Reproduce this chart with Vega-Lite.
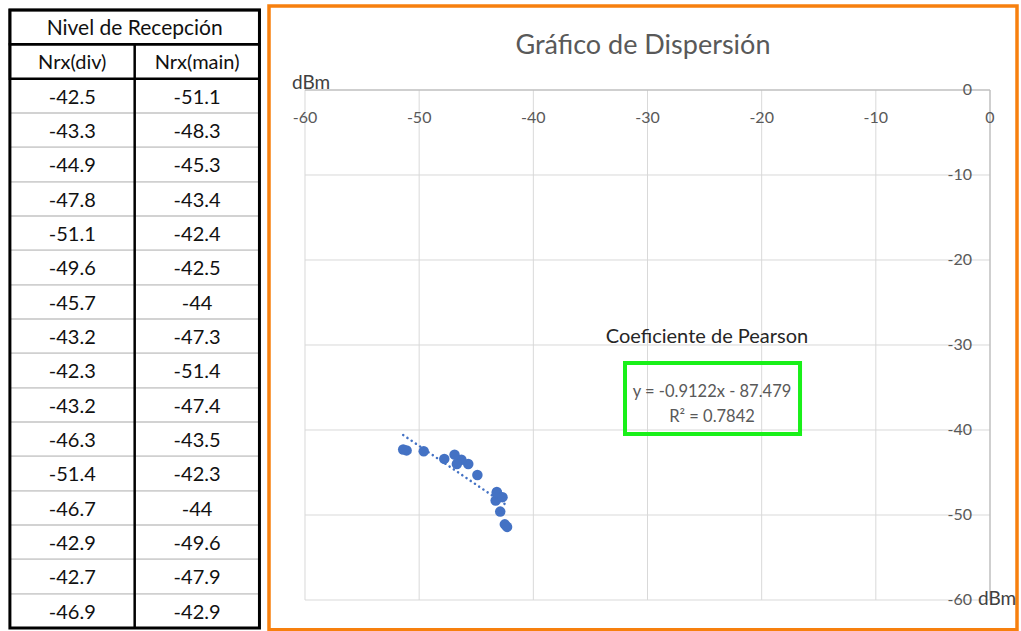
{
  "$schema": "https://vega.github.io/schema/vega-lite/v6.json",
  "width": 1021,
  "height": 631,
  "padding": 0,
  "autosize": {"type": "none"},
  "background": "white",
  "config": {"view": {"stroke": null}, "font": "Lato"},
  "datasets": {
    "rows": [
      {"n": 1, "div": -42.5, "main": -51.1},
      {"n": 2, "div": -43.3, "main": -48.3},
      {"n": 3, "div": -44.9, "main": -45.3},
      {"n": 4, "div": -47.8, "main": -43.4},
      {"n": 5, "div": -51.1, "main": -42.4},
      {"n": 6, "div": -49.6, "main": -42.5},
      {"n": 7, "div": -45.7, "main": -44},
      {"n": 8, "div": -43.2, "main": -47.3},
      {"n": 9, "div": -42.3, "main": -51.4},
      {"n": 10, "div": -43.2, "main": -47.4},
      {"n": 11, "div": -46.3, "main": -43.5},
      {"n": 12, "div": -51.4, "main": -42.3},
      {"n": 13, "div": -46.7, "main": -44},
      {"n": 14, "div": -42.9, "main": -49.6},
      {"n": 15, "div": -42.7, "main": -47.9},
      {"n": 16, "div": -46.9, "main": -42.9}
    ],
    "headers": [
      {"r": "t", "label": "Nivel de Recepción"},
      {"r": "h", "label": "Nrx(div)"},
      {"r": "h", "label": "Nrx(main)"}
    ],
    "ticks": [{"v": -60}, {"v": -50}, {"v": -40}, {"v": -30}, {"v": -20}, {"v": -10}, {"v": 0}]
  },
  "resolve": {"scale": {"x": "independent", "y": "independent"}},
  "layer": [
    {
      "layer": [
        {
          "data": {"name": "rows"},
          "mark": {"type": "rect", "filled": false, "color": "#D0D0D0", "strokeWidth": 1.5},
          "encoding": {
            "x": {"datum": 0, "type": "quantitative", "scale": {"domain": [-0.07937, 8.10317], "nice": false, "zero": false}, "axis": null},
            "x2": {"datum": 2},
            "y": {"field": "n", "type": "ordinal", "scale": {"domain": ["t", "h", 1, 2, 3, 4, 5, 6, 7, 8, 9, 10, 11, 12, 13, 14, 15, 16], "paddingInner": 0, "paddingOuter": 0.18932, "align": 0.769}, "axis": null}
          }
        },
        {
          "data": {"values": [{}]},
          "mark": {"type": "rule", "color": "black", "strokeWidth": 2.5},
          "encoding": {
            "x": {"datum": 1, "type": "quantitative", "axis": null},
            "y": {"datum": "h", "type": "ordinal", "bandPosition": 0, "axis": null},
            "y2": {"datum": 16, "bandPosition": 1}
          }
        },
        {
          "data": {"name": "headers"},
          "transform": [{"filter": "datum.r === 't'"}],
          "mark": {"type": "rect", "filled": false, "color": "black", "strokeWidth": 2.5},
          "encoding": {
            "x": {"datum": 0, "type": "quantitative", "axis": null},
            "x2": {"datum": 2},
            "y": {"field": "r", "type": "ordinal", "axis": null}
          }
        },
        {
          "data": {"values": [{}]},
          "mark": {"type": "rect", "filled": false, "color": "black", "strokeWidth": 2.5},
          "encoding": {
            "x": {"datum": 0, "type": "quantitative", "axis": null},
            "x2": {"datum": 2},
            "y": {"datum": "h", "type": "ordinal", "axis": null}
          }
        },
        {
          "data": {"values": [{}]},
          "mark": {"type": "rect", "filled": false, "color": "black", "strokeWidth": 3},
          "encoding": {
            "x": {"datum": 0, "type": "quantitative", "axis": null},
            "x2": {"datum": 2},
            "y": {"datum": "t", "type": "ordinal", "bandPosition": 0, "axis": null},
            "y2": {"datum": 16, "bandPosition": 1}
          }
        },
        {
          "data": {"name": "headers"},
          "transform": [{"filter": "datum.r === 't'"}],
          "mark": {"type": "text", "fontSize": 21, "color": "#111111", "baseline": "middle", "align": "center", "dy": 2},
          "encoding": {
            "x": {"datum": 1, "type": "quantitative", "axis": null},
            "y": {"field": "r", "type": "ordinal", "axis": null},
            "text": {"field": "label", "type": "nominal"}
          }
        },
        {
          "data": {"name": "headers"},
          "transform": [{"filter": "datum.label === 'Nrx(div)'"}],
          "mark": {"type": "text", "fontSize": 20, "color": "#111111", "baseline": "middle", "align": "center", "dy": 2},
          "encoding": {
            "x": {"datum": 0.5, "type": "quantitative", "axis": null},
            "y": {"field": "r", "type": "ordinal", "axis": null},
            "text": {"field": "label", "type": "nominal"}
          }
        },
        {
          "data": {"name": "headers"},
          "transform": [{"filter": "datum.label === 'Nrx(main)'"}],
          "mark": {"type": "text", "fontSize": 20, "color": "#111111", "baseline": "middle", "align": "center", "dy": 2},
          "encoding": {
            "x": {"datum": 1.5, "type": "quantitative", "axis": null},
            "y": {"field": "r", "type": "ordinal", "axis": null},
            "text": {"field": "label", "type": "nominal"}
          }
        },
        {
          "data": {"name": "rows"},
          "mark": {"type": "text", "fontSize": 20, "color": "#111111", "baseline": "middle", "align": "center", "dy": 2},
          "encoding": {
            "x": {"datum": 0.5, "type": "quantitative", "axis": null},
            "y": {"field": "n", "type": "ordinal", "axis": null},
            "text": {"field": "div", "type": "nominal"}
          }
        },
        {
          "data": {"name": "rows"},
          "mark": {"type": "text", "fontSize": 20, "color": "#111111", "baseline": "middle", "align": "center", "dy": 2},
          "encoding": {
            "x": {"datum": 1.5, "type": "quantitative", "axis": null},
            "y": {"field": "n", "type": "ordinal", "axis": null},
            "text": {"field": "main", "type": "nominal"}
          }
        }
      ]
    },
    {
      "layer": [
        {
          "data": {"name": "ticks"},
          "transform": [{"filter": "datum.v < 0"}],
          "mark": {"type": "rule", "color": "#D9D9D9", "strokeWidth": 1},
          "encoding": {
            "x": {"field": "v", "type": "quantitative", "scale": {"domain": [-86.715, 2.715], "nice": false, "zero": false}, "axis": null},
            "y": {"datum": 0, "type": "quantitative", "scale": {"domain": [-63.647, 10.588], "nice": false, "zero": false}, "axis": null},
            "y2": {"datum": -60}
          }
        },
        {
          "data": {"name": "ticks"},
          "transform": [{"filter": "datum.v < 0"}],
          "mark": {"type": "rule", "color": "#D9D9D9", "strokeWidth": 1},
          "encoding": {
            "y": {"field": "v", "type": "quantitative", "axis": null},
            "x": {"datum": -60, "type": "quantitative", "axis": null},
            "x2": {"datum": 0}
          }
        },
        {
          "data": {"values": [{}]},
          "mark": {"type": "rule", "color": "#BFBFBF", "strokeWidth": 1.5},
          "encoding": {
            "y": {"datum": 0, "type": "quantitative", "axis": null},
            "x": {"datum": -60, "type": "quantitative", "axis": null},
            "x2": {"datum": 0}
          }
        },
        {
          "data": {"values": [{}]},
          "mark": {"type": "rule", "color": "#BFBFBF", "strokeWidth": 1.5},
          "encoding": {
            "x": {"datum": 0, "type": "quantitative", "axis": null},
            "y": {"datum": 0, "type": "quantitative", "axis": null},
            "y2": {"datum": -60}
          }
        },
        {
          "data": {"values": [{}]},
          "mark": {"type": "rect", "filled": false, "color": "#F7800E", "strokeWidth": 3.5},
          "encoding": {
            "x": {"datum": -63.153, "type": "quantitative", "axis": null},
            "x2": {"datum": 2.365},
            "y": {"datum": 9.882, "type": "quantitative", "axis": null},
            "y2": {"datum": -63.5}
          }
        },
        {
          "data": {"name": "ticks"},
          "mark": {"type": "text", "fontSize": 16, "color": "#595959", "baseline": "middle", "align": "center"},
          "encoding": {
            "x": {"field": "v", "type": "quantitative", "axis": null},
            "y": {"datum": -3.3, "type": "quantitative", "axis": null},
            "text": {"field": "v", "type": "nominal"}
          }
        },
        {
          "data": {"name": "ticks"},
          "mark": {"type": "text", "fontSize": 16, "color": "#595959", "baseline": "middle", "align": "right"},
          "encoding": {
            "y": {"field": "v", "type": "quantitative", "axis": null},
            "x": {"datum": -1.58, "type": "quantitative", "axis": null},
            "text": {"field": "v", "type": "nominal"}
          }
        },
        {
          "data": {"values": [{}]},
          "mark": {"type": "text", "fontSize": 19, "color": "#404040", "baseline": "alphabetic", "align": "left"},
          "encoding": {
            "x": {"datum": -61.14, "type": "quantitative", "axis": null},
            "y": {"datum": 0.06, "type": "quantitative", "axis": null},
            "text": {"value": "dBm"}
          }
        },
        {
          "data": {"values": [{}]},
          "mark": {"type": "text", "fontSize": 19, "color": "#404040", "baseline": "alphabetic", "align": "left"},
          "encoding": {
            "x": {"datum": -1.05, "type": "quantitative", "axis": null},
            "y": {"datum": -60.59, "type": "quantitative", "axis": null},
            "text": {"value": "dBm"}
          }
        },
        {
          "data": {"values": [{}]},
          "mark": {"type": "text", "fontSize": 27, "color": "#595959", "baseline": "middle", "align": "center"},
          "encoding": {
            "x": {"datum": -30.4, "type": "quantitative", "axis": null},
            "y": {"datum": 5.17, "type": "quantitative", "axis": null},
            "text": {"value": "Gráfico de Dispersión"}
          }
        },
        {
          "data": {"name": "rows"},
          "transform": [{"regression": "main", "on": "div"}],
          "mark": {"type": "line", "color": "#4472C4", "strokeWidth": 2.5, "strokeDash": [0.1, 5], "strokeCap": "round"},
          "encoding": {
            "x": {"field": "div", "type": "quantitative", "axis": null},
            "y": {"field": "main", "type": "quantitative", "axis": null}
          }
        },
        {
          "data": {"name": "rows"},
          "mark": {"type": "circle", "color": "#4472C4", "opacity": 1, "size": 110},
          "encoding": {
            "x": {"field": "div", "type": "quantitative", "axis": null},
            "y": {"field": "main", "type": "quantitative", "axis": null}
          }
        },
        {
          "data": {"values": [{}]},
          "mark": {"type": "text", "fontSize": 20, "color": "#262626", "baseline": "middle", "align": "center"},
          "encoding": {
            "x": {"datum": -24.79, "type": "quantitative", "axis": null},
            "y": {"datum": -29.06, "type": "quantitative", "axis": null},
            "text": {"value": "Coeficiente de Pearson"}
          }
        },
        {
          "data": {"values": [{}]},
          "mark": {"type": "rect", "filled": false, "color": "#19F019", "strokeWidth": 4},
          "encoding": {
            "x": {"datum": -31.97, "type": "quantitative", "axis": null},
            "x2": {"datum": -16.64},
            "y": {"datum": -32.12, "type": "quantitative", "axis": null},
            "y2": {"datum": -40.47}
          }
        },
        {
          "data": {"values": [{}]},
          "mark": {"type": "text", "fontSize": 16.5, "color": "#595959", "baseline": "middle", "align": "center"},
          "encoding": {
            "x": {"datum": -24.35, "type": "quantitative", "axis": null},
            "y": {"datum": -35.53, "type": "quantitative", "axis": null},
            "text": {"value": "y = -0.9122x - 87.479"}
          }
        },
        {
          "data": {"values": [{}]},
          "mark": {"type": "text", "fontSize": 16.5, "color": "#595959", "baseline": "middle", "align": "center"},
          "encoding": {
            "x": {"datum": -24.35, "type": "quantitative", "axis": null},
            "y": {"datum": -38.47, "type": "quantitative", "axis": null},
            "text": {"value": "R² = 0.7842"}
          }
        }
      ]
    }
  ]
}
